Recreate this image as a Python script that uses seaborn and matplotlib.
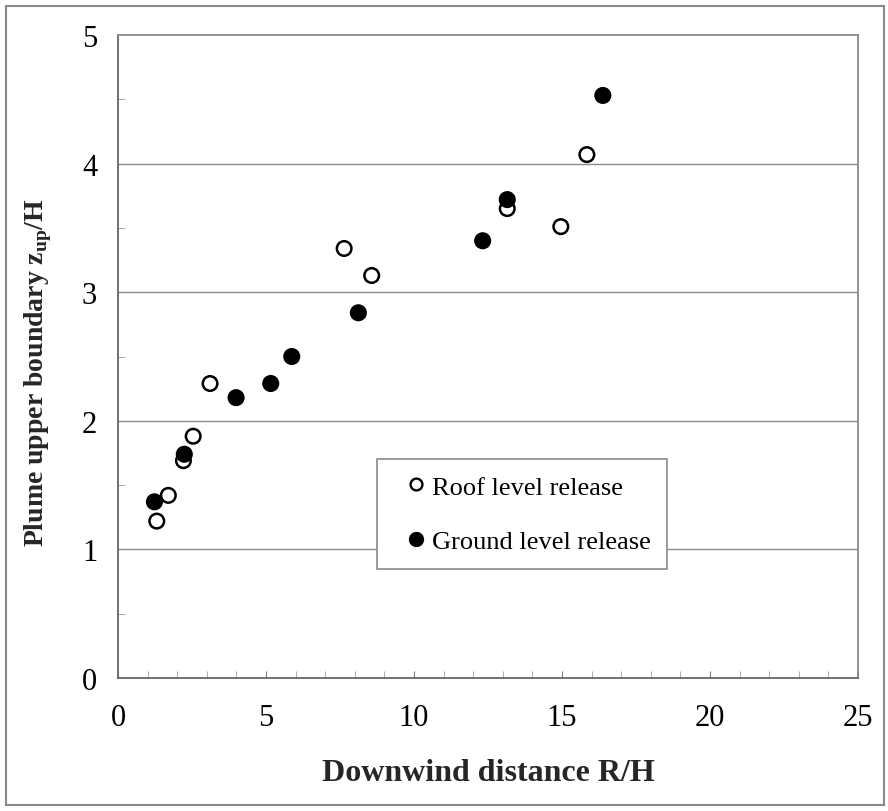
import matplotlib
matplotlib.use("Agg")
import matplotlib.pyplot as plt
import seaborn as sns
import pandas as pd
from matplotlib.patches import Rectangle
from matplotlib.lines import Line2D
from matplotlib.ticker import MultipleLocator

roof_x = [1.31, 1.70, 2.21, 2.54, 3.11, 7.64, 8.57, 13.15, 14.96, 15.84]
roof_y = [1.22, 1.42, 1.69, 1.88, 2.29, 3.34, 3.13, 3.65, 3.51, 4.07]
ground_x = [1.23, 2.24, 3.99, 5.16, 5.87, 8.12, 12.32, 13.15, 16.38]
ground_y = [1.37, 1.74, 2.18, 2.29, 2.50, 2.84, 3.40, 3.72, 4.53]
series = ["Roof level release", "Ground level release"]
x_ticks = [0, 5, 10, 15, 20, 25]
y_ticks = [0, 1, 2, 3, 4, 5]

df = pd.DataFrame({
    "x": roof_x + ground_x,
    "y": roof_y + ground_y,
    "s": [series[0]] * len(roof_x) + [series[1]] * len(ground_x),
})

sns.set_style("white")
plt.rcParams["font.family"] = ["Liberation Serif", "DejaVu Serif"]
plt.rcParams["mathtext.fontset"] = "custom"
plt.rcParams["mathtext.rm"] = "Liberation Serif"
plt.rcParams["mathtext.bf"] = "Liberation Serif:bold"
plt.rcParams["text.color"] = "black"

fig = plt.figure(figsize=(8.88, 8.12), dpi=100)
ax = fig.add_axes([118/888, 1-679/812, (858-118)/888, (679-36)/812])

for y in [1, 2, 3, 4]:
    ax.axhline(y, color="#8a8a8a", lw=1.0, zorder=0)

sns.scatterplot(data=df, x="x", y="y", hue="s", style="s",
                palette={series[0]: "white", series[1]: "black"},
                markers={series[0]: "o", series[1]: "o"},
                s=110, edgecolor="black", linewidth=1.8, ax=ax, zorder=3,
                legend=False)

ax.set_xlim(0, 25)
ax.set_ylim(0, 5)
ax.set_xticks(x_ticks)
ax.set_yticks(y_ticks)
ax.set_xticklabels([str(t) for t in x_ticks])
ax.set_yticklabels([str(t) for t in y_ticks])
ax.xaxis.set_minor_locator(MultipleLocator(1))
ax.yaxis.set_minor_locator(MultipleLocator(0.5))
ax.tick_params(axis="both", which="major", labelsize=22, direction="in", length=5,
               color="#777777", labelcolor="black")
ax.tick_params(axis="x", which="major", bottom=True, pad=18)
ax.tick_params(axis="y", which="major", left=False, pad=15)
ax.tick_params(axis="x", which="minor", direction="in", length=5, color="#999999", bottom=True)
ax.tick_params(axis="y", which="minor", direction="in", length=5, color="#999999", left=True)
for sp in ax.spines.values():
    sp.set_color("#8a8a8a")
    sp.set_linewidth(1.3)
ax.spines["left"].set_color("#666666")
ax.spines["bottom"].set_color("#666666")

ax.set_xlabel("Downwind distance R/H", fontsize=23, fontweight="bold")
ax.set_ylabel(r"Plume upper boundary z$_{\mathbf{up}}$/H", fontsize=20, fontweight="bold")
ax.xaxis.set_label_coords(0.5, (679-759)/643)
ax.yaxis.set_label_coords((54-118)/740, (679-373)/643)

handles = [
    Line2D([], [], marker="o", ls="", markerfacecolor="white", markeredgecolor="black",
           markersize=8.5, markeredgewidth=1.7),
    Line2D([], [], marker="o", ls="", markerfacecolor="black", markeredgecolor="black",
           markersize=9.5, markeredgewidth=1.5),
]
leg = ax.legend(handles, series, loc="upper left",
                bbox_to_anchor=((377-118)/740, (679-460)/643),
                fontsize=19, frameon=True, fancybox=False, framealpha=1,
                edgecolor="#8a8a8a", borderpad=0.61, labelspacing=1.17,
                handletextpad=-0.27, handlelength=1.74, borderaxespad=0)
leg.get_frame().set_linewidth(1.2)

fig.patches.append(Rectangle((6/888, 6/812), (884-6)/888, (805-6)/812,
                             transform=fig.transFigure, fill=False,
                             edgecolor="#8a8a8a", lw=1.5))

fig.savefig("out.png", dpi=100)
